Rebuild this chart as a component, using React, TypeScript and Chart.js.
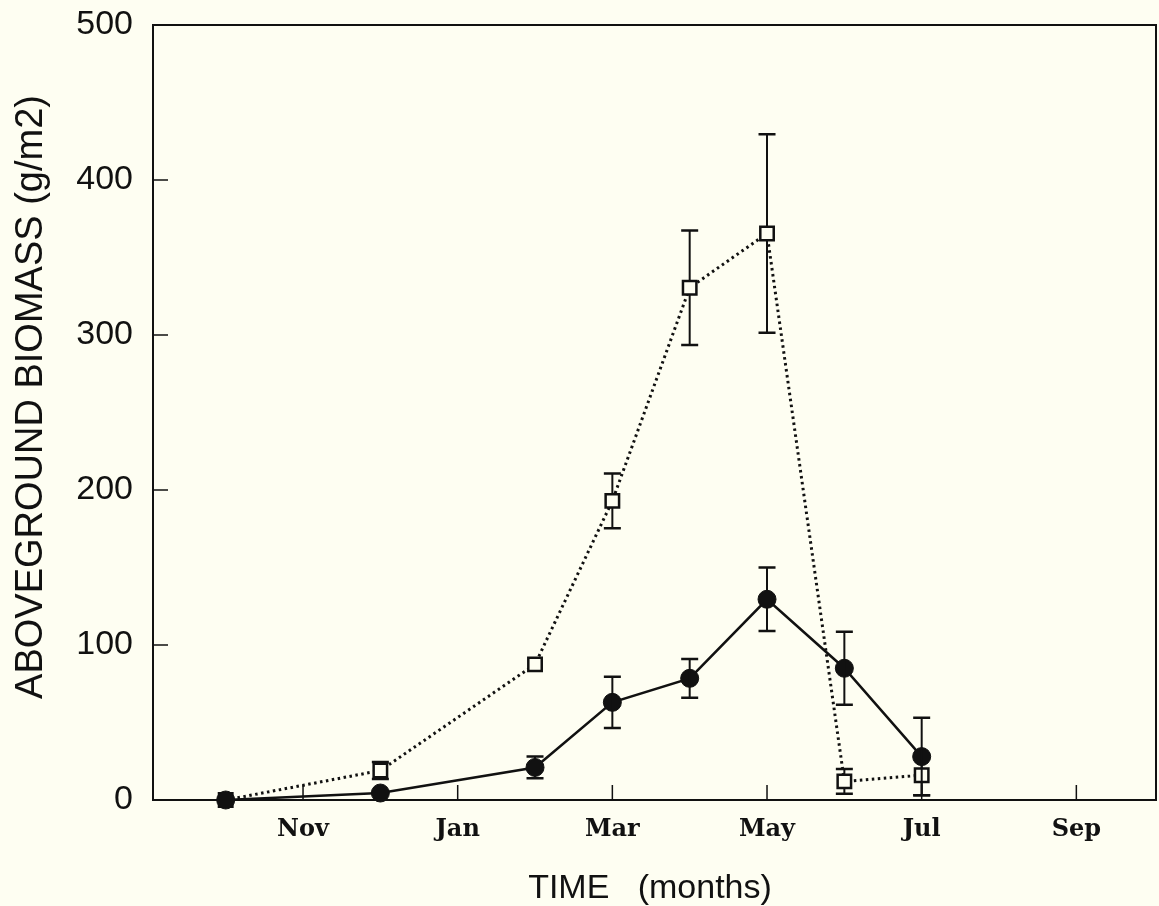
import React, { useEffect, useRef } from 'react';
import { Chart, registerables } from 'chart.js';

Chart.register(...registerables);

// Months counted from September (0) of the first year
const tickMonths = [2, 4, 6, 8, 10, 12];
const tickLabels = ['Nov', 'Jan', 'Mar', 'May', 'Jul', 'Sep'];
const yTicks = [0, 100, 200, 300, 400, 500];

const sampleMonths = [1, 3, 5, 6, 7, 8, 9, 10];
const solidValues = [0, 4.5, 21, 63, 78.5, 129.5, 85, 28];
const solidErrors = [0, 0, 7, 16.5, 12.5, 20.5, 23.5, 25];
const openValues = [0, 19, 87.5, 193, 330.5, 365.5, 12, 16];
const openErrors = [0, 5.5, 0, 17.7, 37, 64, 8, 13];

const xTitle = 'TIME   (months)';
const yTitle = 'ABOVEGROUND BIOMASS (g/m2)';

const INK = '#111111';
const BG = '#FEFEF2';

function drawErrors(chart: any, values: number[], errs: number[]) {
  const { ctx, scales } = chart;
  const x = scales.x;
  const y = scales.y;
  ctx.save();
  ctx.strokeStyle = INK;
  const cap = 17;
  sampleMonths.forEach((m, i) => {
    const e = errs[i];
    if (!e) return;
    const px = x.getPixelForValue(m);
    const top = y.getPixelForValue(values[i] + e);
    const bot = y.getPixelForValue(Math.max(values[i] - e, 0));
    ctx.lineWidth = 2;
    ctx.beginPath();
    ctx.moveTo(px, top);
    ctx.lineTo(px, bot);
    ctx.stroke();
    ctx.lineWidth = 2.5;
    ctx.beginPath();
    ctx.moveTo(px - cap / 2, top);
    ctx.lineTo(px + cap / 2, top);
    ctx.moveTo(px - cap / 2, bot);
    ctx.lineTo(px + cap / 2, bot);
    ctx.stroke();
  });
  ctx.restore();
}

const decorPlugin = {
  id: 'decor',
  beforeDraw(chart: any) {
    const { ctx, width, height } = chart;
    ctx.save();
    ctx.fillStyle = BG;
    ctx.fillRect(0, 0, width, height);
    ctx.restore();
  },
  beforeDatasetsDraw(chart: any) {
    const { ctx, chartArea, scales } = chart;
    const { left, right, top, bottom } = chartArea;
    ctx.save();
    ctx.strokeStyle = INK;
    ctx.lineWidth = 2;
    ctx.strokeRect(left, top, right - left, bottom - top);
    ctx.lineWidth = 1.5;
    ctx.beginPath();
    tickMonths.forEach((m) => {
      const px = scales.x.getPixelForValue(m);
      ctx.moveTo(px, bottom);
      ctx.lineTo(px, bottom - 15);
    });
    yTicks.forEach((v) => {
      if (v === 0 || v === 500) return;
      const py = scales.y.getPixelForValue(v);
      ctx.moveTo(left, py);
      ctx.lineTo(left + 15, py);
    });
    ctx.stroke();
    ctx.restore();
    drawErrors(chart, openValues, openErrors);
  },
  afterDatasetsDraw(chart: any) {
    drawErrors(chart, solidValues, solidErrors);
  },
  afterDraw(chart: any) {
    const { ctx } = chart;
    ctx.save();
    ctx.fillStyle = INK;
    ctx.font = '34px "Liberation Sans"';
    ctx.textAlign = 'center';
    ctx.textBaseline = 'alphabetic';
    ctx.fillText(xTitle, 650, 898);
    ctx.translate(42, 397);
    ctx.rotate(-Math.PI / 2);
    ctx.font = '38px "Liberation Sans"';
    ctx.fillText(yTitle, 0, 0);
    ctx.restore();
  },
};

function zeroPad(s: any) {
  s.paddingTop = 0;
  s.paddingBottom = 0;
  s.paddingLeft = 0;
  s.paddingRight = 0;
}

export default function App() {
  const ref = useRef<HTMLCanvasElement | null>(null);

  useEffect(() => {
    document.body.style.margin = '0';
    document.body.style.background = BG;
    const canvas = ref.current;
    if (!canvas) return;
    const chart = new Chart(canvas, {
      type: 'line',
      data: {
        datasets: [
          {
            label: 'solid',
            data: sampleMonths.map((m, i) => ({ x: m, y: solidValues[i] })),
            borderColor: INK,
            borderWidth: 2.5,
            pointStyle: 'circle',
            pointRadius: 9,
            pointBackgroundColor: INK,
            pointBorderColor: INK,
            pointBorderWidth: 1,
            fill: false,
            tension: 0,
            clip: false,
          },
          {
            label: 'open',
            data: sampleMonths.map((m, i) => ({ x: m, y: openValues[i] })),
            borderColor: INK,
            borderWidth: 3,
            borderDash: [2.5, 3.5],
            pointStyle: 'rect',
            pointRadius: 9.5,
            pointBackgroundColor: BG,
            pointBorderColor: INK,
            pointBorderWidth: 2.5,
            fill: false,
            tension: 0,
            clip: false,
          },
        ],
      },
      options: {
        animation: false,
        responsive: false,
        maintainAspectRatio: false,
        events: [],
        layout: { autoPadding: false, padding: { left: 0, right: 3, top: 25, bottom: 0 } },
        plugins: {
          legend: { display: false },
          tooltip: { enabled: false },
          title: { display: false },
        },
        scales: {
          x: {
            type: 'linear',
            min: 0.06,
            max: 13.03,
            grid: { display: false },
            border: { display: false },
            afterBuildTicks: (s: any) => {
              s.ticks = tickMonths.map((v) => ({ value: v }));
            },
            afterFit: (s: any) => {
              s.height = 106;
              zeroPad(s);
            },
            ticks: {
              autoSkip: false,
              maxRotation: 0,
              padding: 7,
              color: INK,
              font: { family: 'DejaVu Serif', size: 24, weight: 'bold' },
              callback: (v: any) => {
                const idx = tickMonths.indexOf(Number(v));
                return idx >= 0 ? tickLabels[idx] : '';
              },
            },
          },
          y: {
            type: 'linear',
            min: 0,
            max: 500,
            grid: { display: false },
            border: { display: false },
            afterBuildTicks: (s: any) => {
              s.ticks = yTicks.map((v) => ({ value: v }));
            },
            afterFit: (s: any) => {
              s.width = 153;
              zeroPad(s);
            },
            ticks: {
              padding: 12,
              color: INK,
              font: { family: 'Liberation Sans', size: 34 },
            },
          },
        },
      },
      plugins: [decorPlugin],
    });
    return () => chart.destroy();
  }, []);

  return (
    <div style={{ position: 'fixed', left: 0, top: 0, width: 1159, height: 906, background: BG }}>
      <canvas ref={ref} width={1159} height={906} style={{ width: 1159, height: 906, display: 'block' }} />
    </div>
  );
}
